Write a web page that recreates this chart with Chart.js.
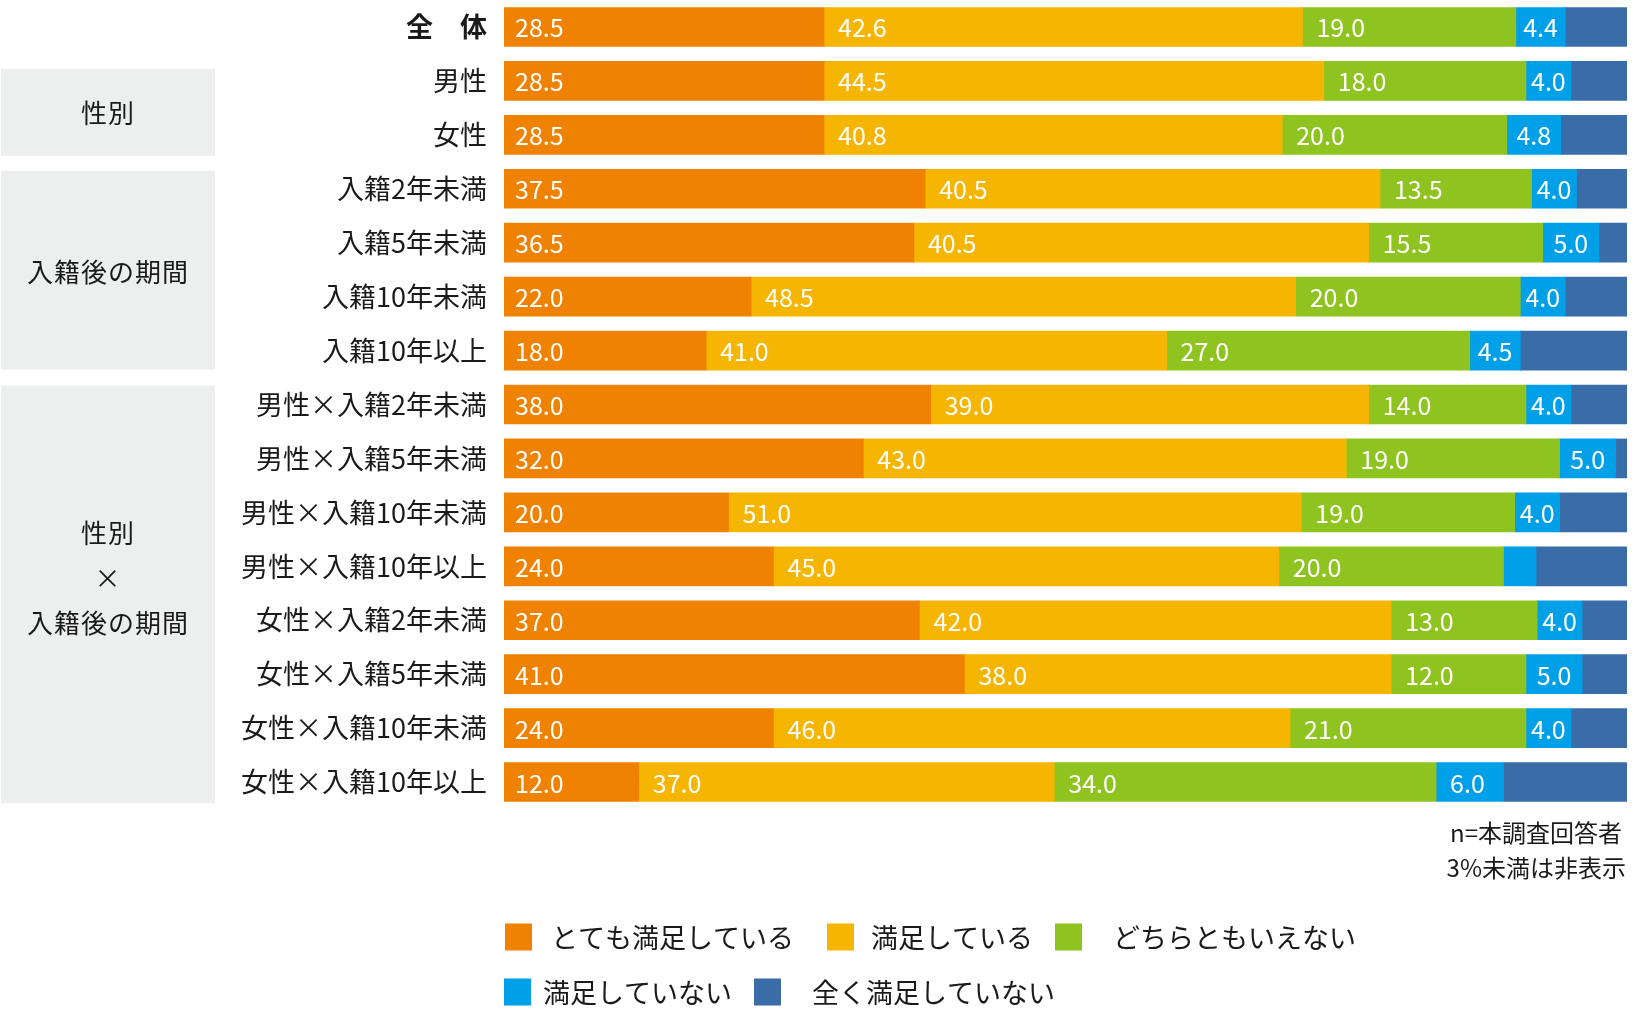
<!DOCTYPE html>
<html>
<head>
<meta charset="utf-8">
<script src="https://cdn.jsdelivr.net/npm/chart.js@4.4.1/dist/chart.umd.min.js"></script>
<style>
  html, body { margin: 0; padding: 0; background: #fff; }
  #wrap { position: relative; width: 1635px; height: 1033px; }
  canvas { display: block; }
</style>
</head>
<body>
<div id="wrap"><canvas id="c" width="1635" height="1033"></canvas></div>
<script>
// ---- data ----
const categories = ['全　体','男性','女性','入籍2年未満','入籍5年未満','入籍10年未満','入籍10年以上',
  '男性×入籍2年未満','男性×入籍5年未満','男性×入籍10年未満','男性×入籍10年以上',
  '女性×入籍2年未満','女性×入籍5年未満','女性×入籍10年未満','女性×入籍10年以上'];
const seriesNames = ['とても満足している','満足している','どちらともいえない','満足していない','全く満足していない'];
const verySatisfied    = [28.5,28.5,28.5,37.5,36.5,22.0,18.0,38.0,32.0,20.0,24.0,37.0,41.0,24.0,12.0];
const satisfied        = [42.6,44.5,40.8,40.5,40.5,48.5,41.0,39.0,43.0,51.0,45.0,42.0,38.0,46.0,37.0];
const neutral          = [19.0,18.0,20.0,13.5,15.5,20.0,27.0,14.0,19.0,19.0,20.0,13.0,12.0,21.0,34.0];
const dissatisfied     = [4.4,4.0,4.8,4.0,5.0,4.0,4.5,4.0,5.0,4.0,2.9,4.0,5.0,4.0,6.0];
const veryDissatisfied = [5.5,5.0,5.9,4.5,2.5,5.5,9.5,5.0,1.0,6.0,8.1,4.0,4.0,5.0,11.0];
const groupNames = [['性別'], ['入籍後の期間'], ['性別','×','入籍後の期間']];
const groupRows  = [[1,2],[3,6],[7,14]];
const notes = ['n=本調査回答者','3%未満は非表示'];
const labelThreshold = 3;

// ---- styles ----
const FONT = '"Noto Sans CJK JP", "Noto Sans", sans-serif';
const colors = ['#EF8200','#F6B500','#8FC31F','#00A0E9','#3A6DA8'];
const seriesValues = [verySatisfied, satisfied, neutral, dissatisfied, veryDissatisfied];

const groupStyle = { left: 1, right: 215, fill: '#EDEFEE',
  insetTop: [15, 9, 8], insetBottom: [6, 8, 6], textShift: [1, 2, -16], lineGap: 45 };
const legendPos = [
  {sx:505, sy:937, tx:551}, {sx:827, sy:937, tx:871}, {sx:1055, sy:937, tx:1113},
  {sx:504, sy:992, tx:543}, {sx:754, sy:992, tx:812}
];

const decorPlugin = {
  id: 'decor',
  beforeDraw(chart) {
    const ctx = chart.ctx;
    ctx.save();
    ctx.fillStyle = '#fff';
    ctx.fillRect(0, 0, chart.width, chart.height);
    const ys = chart.scales.y;
    const band = ys.getPixelForValue(1) - ys.getPixelForValue(0);
    groupRows.forEach((r, gi) => {
      const top = ys.getPixelForValue(r[0]) - band / 2 + groupStyle.insetTop[gi];
      const bot = ys.getPixelForValue(r[1]) + band / 2 - groupStyle.insetBottom[gi];
      ctx.fillStyle = groupStyle.fill;
      ctx.fillRect(groupStyle.left, top, groupStyle.right - groupStyle.left, bot - top);
      const lines = groupNames[gi];
      const cx = (groupStyle.left + groupStyle.right) / 2;
      const cy = (top + bot) / 2 + groupStyle.textShift[gi];
      ctx.fillStyle = '#1a1a1a';
      ctx.font = '26px ' + FONT;
      ctx.textAlign = 'center';
      ctx.textBaseline = 'middle';
      try { ctx.letterSpacing = '1px'; } catch (e) {}
      lines.forEach((t, li) => {
        const y = cy + (li - (lines.length - 1) / 2) * groupStyle.lineGap;
        ctx.fillText(t, cx, y);
      });
      try { ctx.letterSpacing = '0px'; } catch (e) {}
    });
    ctx.restore();
  },
  afterDatasetsDraw(chart) {
    const ctx = chart.ctx;
    ctx.save();
    ctx.font = '25px ' + FONT;
    ctx.fillStyle = '#fff';
    ctx.textBaseline = 'middle';
    ctx.textAlign = 'left';
    chart.data.datasets.forEach((ds, di) => {
      if (di === chart.data.datasets.length - 1) return;
      const meta = chart.getDatasetMeta(di);
      meta.data.forEach((el, i) => {
        const v = ds.data[i];
        if (v < labelThreshold) return;
        const p = el.getProps(['x', 'base', 'y'], true);
        const start = Math.min(p.x, p.base);
        const w = Math.abs(p.x - p.base);
        const txt = v.toFixed(1);
        const tw = ctx.measureText(txt).width;
        const desired = di === 0 ? 11 : 14;
        const off = Math.min(desired, (w - tw) / 2);
        ctx.fillText(txt, start + off, p.y + 1);
      });
    });
    ctx.restore();
  },
  afterDraw(chart) {
    const ctx = chart.ctx;
    ctx.save();
    // notes
    ctx.fillStyle = '#1a1a1a';
    ctx.font = '24px ' + FONT;
    ctx.textAlign = 'right';
    ctx.textBaseline = 'middle';
    ctx.fillText(notes[0], 1622, 833);
    ctx.fillText(notes[1], 1626, 868);
    // legend
    ctx.textAlign = 'left';
    ctx.font = '27px ' + FONT;
    chart.data.datasets.forEach((ds, di) => {
      const lp = legendPos[di];
      ctx.fillStyle = ds.backgroundColor;
      ctx.fillRect(lp.sx, lp.sy - 13.5, 27, 27);
      ctx.fillStyle = '#1a1a1a';
      ctx.fillText(ds.label, lp.tx, lp.sy + 1);
    });
    ctx.restore();
  }
};

new Chart(document.getElementById('c'), {
  type: 'bar',
  data: {
    labels: categories,
    datasets: seriesNames.map((name, i) => ({
      label: name,
      data: seriesValues[i],
      backgroundColor: colors[i],
      borderWidth: 0,
      barThickness: 39
    }))
  },
  options: {
    indexAxis: 'y',
    responsive: false,
    animation: false,
    devicePixelRatio: 1,
    layout: { padding: { left: 0, right: 8, top: 0, bottom: 224 } },
    plugins: { legend: { display: false }, tooltip: { enabled: false } },
    scales: {
      x: { stacked: true, min: 0, max: 100, display: false },
      y: {
        stacked: true,
        grid: { display: false, drawTicks: false },
        border: { display: false },
        afterFit(scale) {
          scale.width = 504;
          scale.paddingTop = 0;
          scale.paddingBottom = 0;
        },
        ticks: {
          padding: 17,
          color: '#1a1a1a',
          font: (c) => ({ family: FONT, size: 27, weight: c.index === 0 ? 'bold' : 'normal' })
        }
      }
    }
  },
  plugins: [decorPlugin]
});
</script>
</body>
</html>
